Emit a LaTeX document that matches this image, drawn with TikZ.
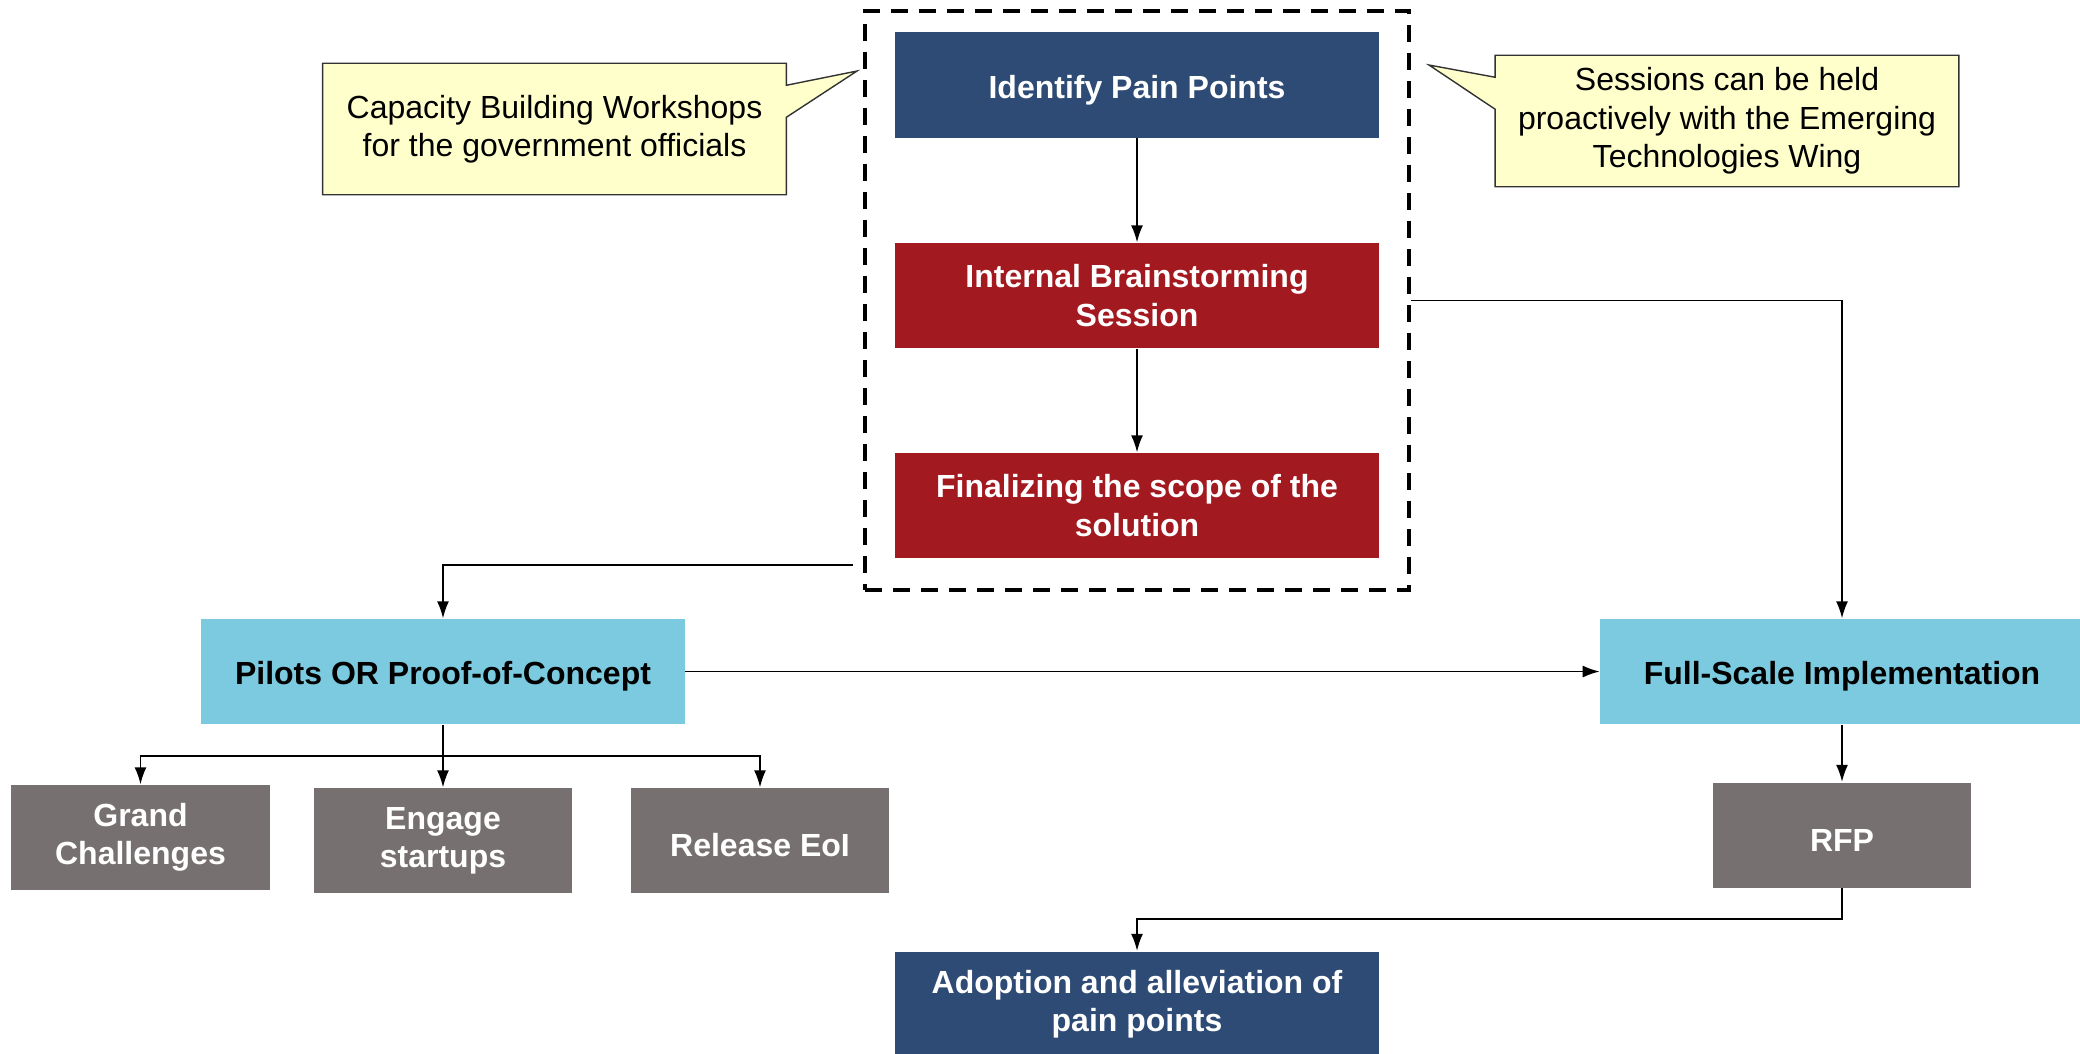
\documentclass[tikz,border=0pt]{standalone}
\usepackage{fontspec}
\setmainfont{Liberation Sans}
\usepackage{tikz}
\usetikzlibrary{positioning, fit, shapes.geometric}
\usetikzlibrary{arrows.meta,calc}
\pgfdeclarelayer{background}
\pgfsetlayers{background,main}

\definecolor{navy}{HTML}{2D4B74}
\definecolor{deepred}{HTML}{A31920}
\definecolor{skyblue}{HTML}{7BCAE0}
\definecolor{stone}{HTML}{767170}
\definecolor{notefill}{HTML}{FFFFCC}

\tikzset{
  box/.style={rectangle, inner sep=0pt, align=center,
    font=\fontsize{9.1}{10.9}\selectfont\bfseries,
    execute at begin node={\rule{0pt}{9.3pt}}},
  navybox/.style={box, fill=navy, text=white, minimum width=4.83cm, minimum height=1.05cm},
  redbox/.style={box, fill=deepred, text=white, minimum width=4.83cm, minimum height=1.05cm},
  cyanbox/.style={box, fill=skyblue, text=black, minimum width=4.83cm, minimum height=1.05cm},
  greybox/.style={box, fill=stone, text=white, minimum width=2.58cm, minimum height=1.05cm},
  note/.style={rectangle, inner sep=0pt, align=center, minimum width=4.62cm,
    minimum height=1.30cm, font=\fontsize{9.1}{10.9}\selectfont,
    execute at begin node={\rule{0pt}{9.3pt}}},
  notebg/.style={fill=notefill, draw=black!80, line width=0.4pt},
  dashframe/.style={rectangle, draw, line width=1.1pt, inner sep=0pt,
    dash pattern=on 0.17cm off 0.11cm, minimum width=5.44cm, minimum height=5.79cm},
  arr/.style={-{Latex[length=0.17cm,width=0.12cm]}, line width=0.45pt, black}
}

\begin{document}
\begin{tikzpicture}[x=0.01cm, y=-0.01cm]
  \useasboundingbox (0,0) rectangle (2080,1053);

  % ideation block
  \node[dashframe] (scopefrm) at (1137,300.5) {};
  \node[navybox] (identify) at (1137,85) {Identify Pain Points};
  \node[redbox] (brainstorm) at (1137,295.5) {Internal Brainstorming\\Session};
  \node[redbox] (finalize) at (1137,505.5) {Finalizing the scope of the\\solution};

  % callouts
  \node[note] (capnote) at (554.5,129) {Capacity Building Workshops\\for the government officials};
  \coordinate (captip) at (857,71);
  \node[note] (wingnote) at (1727,121) {Sessions can be held\\proactively with the Emerging\\Technologies Wing};
  \coordinate (wingtip) at (1429,65);

  % routes
  \node[cyanbox] (pilots) at (443,671.5) {Pilots OR Proof-of-Concept};
  \node[cyanbox] (fullscale) at (1842,671.5) {Full-Scale Implementation};
  \node[greybox] (grand) at (140.5,837.5) {Grand\\Challenges};
  \node[greybox] (engage) at (443,840.5) {Engage\\startups};
  \node[greybox] (release) at (760,840.5) {Release EoI};
  \node[greybox] (rfp) at (1842,835) {RFP};
  \node[navybox] (adoption) at (1137,1004) {Adoption and alleviation of\\pain points};

  \coordinate (scopeout) at (853,565);
  \coordinate (split) at (443,756);
  \coordinate (rfpturn) at (1137,919);

  \draw[arr] (identify) -- (brainstorm);
  \draw[arr] (brainstorm) -- (finalize);
  \draw[arr] (scopeout) -| (pilots);
  \draw[arr] (scopefrm.east) -| (fullscale);
  \draw[arr] (pilots) -- (fullscale);
  \draw[line width=0.45pt] (pilots) -- (split);
  \draw[arr] (split) -| (grand);
  \draw[arr] (split) -- (engage);
  \draw[arr] (split) -| (release);
  \draw[arr] (fullscale) -- (rfp);
  \draw[arr] (rfp) |- (rfpturn) -- (adoption);

  \begin{pgfonlayer}{background}
    \filldraw[notebg] (capnote.north west) -- (capnote.north east)
      -- ($(capnote.north east)+(0,22)$) -- (captip)
      -- ($(capnote.north east)+(0,54)$) -- (capnote.south east)
      -- (capnote.south west) -- cycle;
    \filldraw[notebg] (wingnote.north east) -- (wingnote.north west)
      -- ($(wingnote.north west)+(0,22)$) -- (wingtip)
      -- ($(wingnote.north west)+(0,54)$) -- (wingnote.south west)
      -- (wingnote.south east) -- cycle;
  \end{pgfonlayer}
\end{tikzpicture}
\end{document}
